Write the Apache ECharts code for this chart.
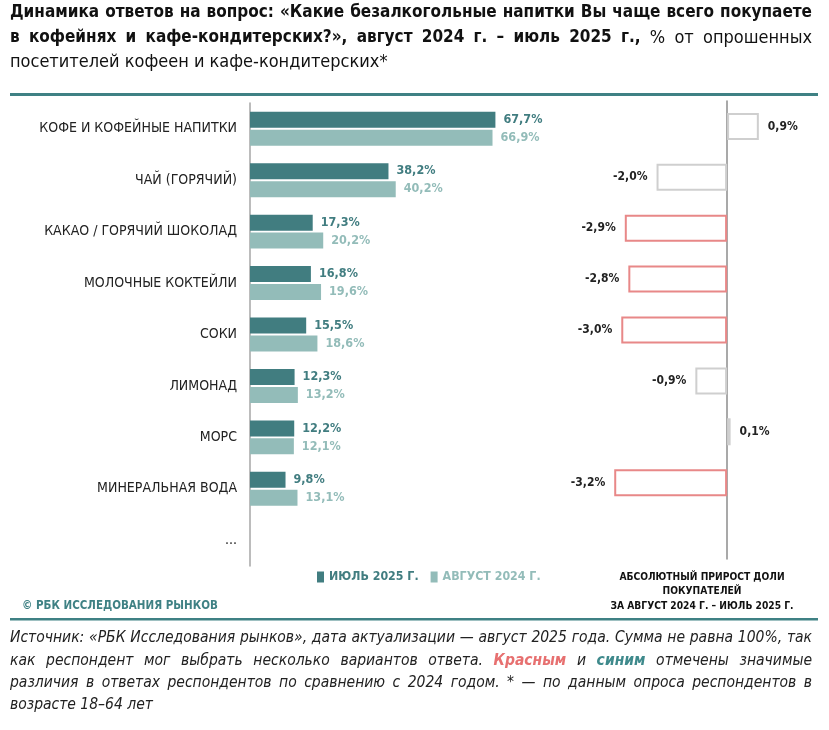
<!DOCTYPE html>
<html>
<head>
<meta charset="utf-8">
<script src="https://cdn.jsdelivr.net/npm/echarts@6/dist/echarts.min.js"></script>
<style>
  html, body { margin: 0; padding: 0; background: #fff; }
  #chart { width: 829px; height: 730px; }
</style>
</head>
<body>
<div id="chart"></div>
<script>
const categories = [
  "КОФЕ И КОФЕЙНЫЕ НАПИТКИ",
  "ЧАЙ (ГОРЯЧИЙ)",
  "КАКАО / ГОРЯЧИЙ ШОКОЛАД",
  "МОЛОЧНЫЕ КОКТЕЙЛИ",
  "СОКИ",
  "ЛИМОНАД",
  "МОРС",
  "МИНЕРАЛЬНАЯ ВОДА",
  "..."
];
const july2025 = [67.7, 38.2, 17.3, 16.8, 15.5, 12.3, 12.2, 9.8, null];
const aug2024 = [66.9, 40.2, 20.2, 19.6, 18.6, 13.2, 12.1, 13.1, null];
const change = [0.9, -2.0, -2.9, -2.8, -3.0, -0.9, 0.1, -3.2, null];
const significant = [false, false, true, true, true, false, false, true, false];
const seriesNames = ["ИЮЛЬ 2025 Г.", "АВГУСТ 2024 Г."];

const FONT = "'Liberation Sans Narrow', 'DejaVu Sans Condensed', 'Liberation Sans', sans-serif";
const DARK = "#417d80";
const LIGHT = "#93bcb9";
const TEAL_LINE = "#3f8184";

const fmt = v => (v == null ? "" : v.toFixed(1).replace(".", ",") + "%");

// justified text lines: each word becomes its own text element
const measureCtx = document.createElement("canvas").getContext("2d");
function textWidth(str, font) {
  measureCtx.font = font;
  return measureCtx.measureText(str).width;
}
function textLine(segments, x0, x1, y, justify) {
  const words = [];
  segments.forEach(seg => {
    seg.text.split(" ").filter(w => w.length).forEach(w => {
      words.push({ text: w, font: seg.font, fill: seg.fill });
    });
  });
  const widths = words.map(w => textWidth(w.text, w.font));
  const total = widths.reduce((a, b) => a + b, 0);
  const gap = justify && words.length > 1
    ? (x1 - x0 - total) / (words.length - 1)
    : textWidth(" ", words[0].font);
  let x = x0;
  return words.map((w, i) => {
    const el = {
      type: "text", x: x, y: y,
      style: { text: w.text, font: w.font, fill: w.fill, verticalAlign: "middle" }
    };
    x += widths[i] + gap;
    return el;
  });
}

const TB = "bold 17px " + FONT;
const TN = "18px " + FONT;
const FN = "italic 15.5px " + FONT;
const FB = "italic bold 15.5px " + FONT;

const titleEls = [
  ...textLine([{ text: "Динамика ответов на вопрос: «Какие безалкогольные напитки Вы чаще всего покупаете", font: TB, fill: "#111" }], 10, 812, 13, true),
  ...textLine([
    { text: "в кофейнях и кафе-кондитерских?», август 2024 г. – июль 2025 г.,", font: TB, fill: "#111" },
    { text: "% от опрошенных", font: TN, fill: "#111" }
  ], 10, 812, 38, true),
  ...textLine([{ text: "посетителей кофеен и кафе-кондитерских*", font: TN, fill: "#111" }], 10, 812, 62, false)
];

const noteEls = [
  ...textLine([{ text: "Источник: «РБК Исследования рынков», дата актуализации — август 2025 года. Сумма не равна 100%, так", font: FN, fill: "#222" }], 10, 812, 638, true),
  ...textLine([
    { text: "как респондент мог выбрать несколько вариантов ответа.", font: FN, fill: "#222" },
    { text: "Красным", font: FB, fill: "#e77070" },
    { text: "и", font: FN, fill: "#222" },
    { text: "синим", font: FB, fill: "#3f8a8c" },
    { text: "отмечены значимые", font: FN, fill: "#222" }
  ], 10, 812, 661, true),
  ...textLine([{ text: "различия в ответах респондентов по сравнению с 2024 годом. * — по данным опроса респондентов в", font: FN, fill: "#222" }], 10, 812, 683, true),
  ...textLine([{ text: "возрасте 18–64 лет", font: FN, fill: "#222" }], 10, 812, 705, false)
];

const changeData = change.map((v, i) => ({
  value: v,
  itemStyle: {
    color: "#fff",
    borderColor: significant[i] ? "#e88888" : "#cfcfcf",
    borderWidth: 2
  },
  label: { position: v >= 0 ? "right" : "left" }
}));

const chart = echarts.init(document.getElementById("chart"));
chart.setOption({
  animation: false,
  textStyle: { fontFamily: FONT },
  grid: [
    { left: 250, top: 103, width: 290, height: 463 },
    { left: 586, top: 101, width: 194, height: 458 }
  ],
  xAxis: [
    { gridIndex: 0, type: "value", min: 0, max: 80, show: false },
    { gridIndex: 1, type: "value", min: -4, max: 1.5, show: false }
  ],
  yAxis: [
    {
      gridIndex: 0, type: "category", data: categories, inverse: true,
      axisLine: { lineStyle: { color: "#a6a6a6", width: 1.5 } },
      axisTick: { show: false },
      axisLabel: { color: "#222", fontSize: 14, margin: 13, fontFamily: FONT }
    },
    {
      gridIndex: 1, type: "category", data: categories, inverse: true,
      axisLine: { lineStyle: { color: "#8c8c8c", width: 1.5 } },
      axisTick: { show: false },
      axisLabel: { show: false }
    }
  ],
  legend: {
    data: [
      { name: seriesNames[0], textStyle: { color: DARK } },
      { name: seriesNames[1], textStyle: { color: LIGHT } }
    ],
    left: 312, top: 566,
    itemWidth: 7, itemHeight: 11, itemGap: 12,
    icon: "rect",
    textStyle: { fontSize: 12.3, fontWeight: "bold", fontFamily: FONT },
    selectedMode: false
  },
  series: [
    {
      name: seriesNames[0], type: "bar", xAxisIndex: 0, yAxisIndex: 0,
      data: july2025, barWidth: 16, barGap: "12%",
      itemStyle: { color: DARK },
      label: {
        show: true, position: "right", distance: 8, formatter: p => fmt(p.value),
        color: DARK, fontWeight: "bold", fontSize: 12.5, fontFamily: FONT
      }
    },
    {
      name: seriesNames[1], type: "bar", xAxisIndex: 0, yAxisIndex: 0,
      data: aug2024, barWidth: 16,
      itemStyle: { color: LIGHT },
      label: {
        show: true, position: "right", distance: 8, formatter: p => fmt(p.value),
        color: LIGHT, fontWeight: "bold", fontSize: 12.5, fontFamily: FONT
      }
    },
    {
      name: "change", type: "bar", xAxisIndex: 1, yAxisIndex: 1,
      data: changeData, barWidth: 27,
      label: {
        show: true, distance: 9, formatter: p => fmt(p.value),
        color: "#222", fontWeight: "bold", fontSize: 12, fontFamily: FONT
      }
    }
  ],
  graphic: [
    ...titleEls,
    { type: "rect", shape: { x: 10, y: 93, width: 808, height: 3 }, style: { fill: TEAL_LINE } },
    { type: "text", left: 22, top: 600, style: { text: "© РБК ИССЛЕДОВАНИЯ РЫНКОВ", font: "bold 11.5px " + FONT, fill: TEAL_LINE } },
    { type: "text", x: 702, y: 570, style: {
      text: "АБСОЛЮТНЫЙ ПРИРОСТ ДОЛИ\nПОКУПАТЕЛЕЙ\nЗА АВГУСТ 2024 Г. – ИЮЛЬ 2025 Г.",
      font: "bold 10.2px " + FONT, fill: "#111", align: "center", lineHeight: 14.5
    } },
    { type: "rect", shape: { x: 10, y: 618, width: 808, height: 2.5 }, style: { fill: TEAL_LINE } },
    ...noteEls
  ]
});
</script>
</body>
</html>
